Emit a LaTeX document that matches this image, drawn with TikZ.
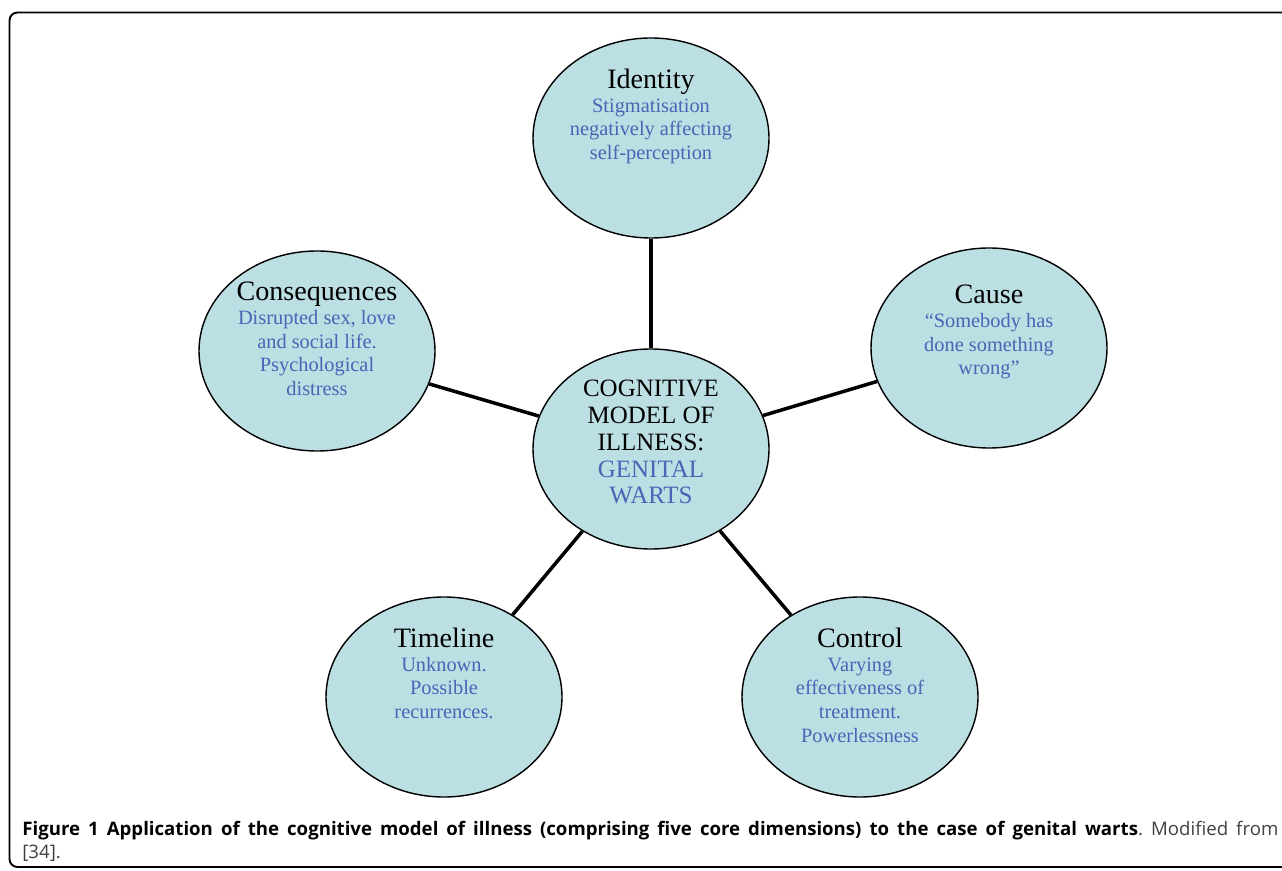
\documentclass[tikz,border=0pt]{standalone}
\usepackage{fontspec}
\setmainfont{Liberation Serif}
\newfontfamily\captionfont{Open Sans}
\usetikzlibrary{shapes.geometric}

\definecolor{bubblefill}{RGB}{188,223,227}
\definecolor{bubbleblue}{RGB}{75,100,182}

\newcommand{\dimtitle}[1]{{\fontsize{16}{16}\selectfont\color{black}#1}\\}

\begin{document}
\frenchspacing
\begin{tikzpicture}[
  bubble/.style={ellipse, draw=black, line width=0.8pt, fill=bubblefill,
    minimum width=4.72cm, minimum height=4cm, inner sep=0pt},
  bubbletext/.style={anchor=north, align=center, inner sep=0pt, text=bubbleblue,
    font=\fontsize{11.6}{13.4}\selectfont},
  spoke/.style={line width=2pt}
]

\clip (0,0) rectangle (25.64,17.4);

% frame
\draw[line width=1.1pt, rounded corners=0.16cm] (26.5,17.15) -- (0.19,17.15) -- (0.19,0.06) -- (26.5,0.06);

\node[bubble] (identity) at (13.02,14.64) {};
\node[bubble] (consequences) at (6.34,10.38) {};
\node[bubble] (cause) at (19.78,10.44) {};
\node[bubble] (model) at (13.02,8.42) {};
\node[bubble] (timeline) at (8.88,3.46) {};
\node[bubble] (control) at (17.2,3.46) {};

\draw[spoke] (model) -- (identity);
\draw[spoke] (model) -- (consequences);
\draw[spoke] (model) -- (cause);
\draw[spoke] (model) -- (timeline);
\draw[spoke] (model) -- (control);

\node[bubbletext] (identity-text) at ([yshift=1.38cm]identity.center)
  {\dimtitle{Identity}Stigmatisation\\negatively affecting\\self-perception};
\node[bubbletext] (consequences-text) at ([yshift=1.38cm]consequences.center)
  {\dimtitle{Consequences}Disrupted sex, love\\and social life.\\Psychological\\distress};
\node[bubbletext] (cause-text) at ([yshift=1.26cm]cause.center)
  {\dimtitle{Cause}``Somebody has\\done something\\wrong''};
\node[bubbletext, font=\fontsize{14.2}{15.2}\selectfont] (model-text) at ([yshift=1.38cm]model.center)
  {\textcolor{black}{COGNITIVE}\\\textcolor{black}{MODEL OF}\\\textcolor{black}{ILLNESS:}\\GENITAL\\WARTS};
\node[bubbletext] (timeline-text) at ([yshift=1.38cm]timeline.center)
  {\dimtitle{Timeline}Unknown.\\Possible\\recurrences.};
\node[bubbletext] (control-text) at ([yshift=1.38cm]control.center)
  {\dimtitle{Control}Varying\\effectiveness of\\treatment.\\Powerlessness};

% caption
\node[anchor=north west, inner sep=0pt, text width=25.12cm, align=justify,
  font=\captionfont\fontsize{10.6}{13}\selectfont] (caption) at (0.44,0.98)
  {\textbf{Figure 1 Application of the cognitive model of illness (comprising five core dimensions) to the case of genital warts}\textcolor{black!75}{. Modified from}\linebreak \textcolor{black!75}{[34].}};

\end{tikzpicture}
\end{document}
